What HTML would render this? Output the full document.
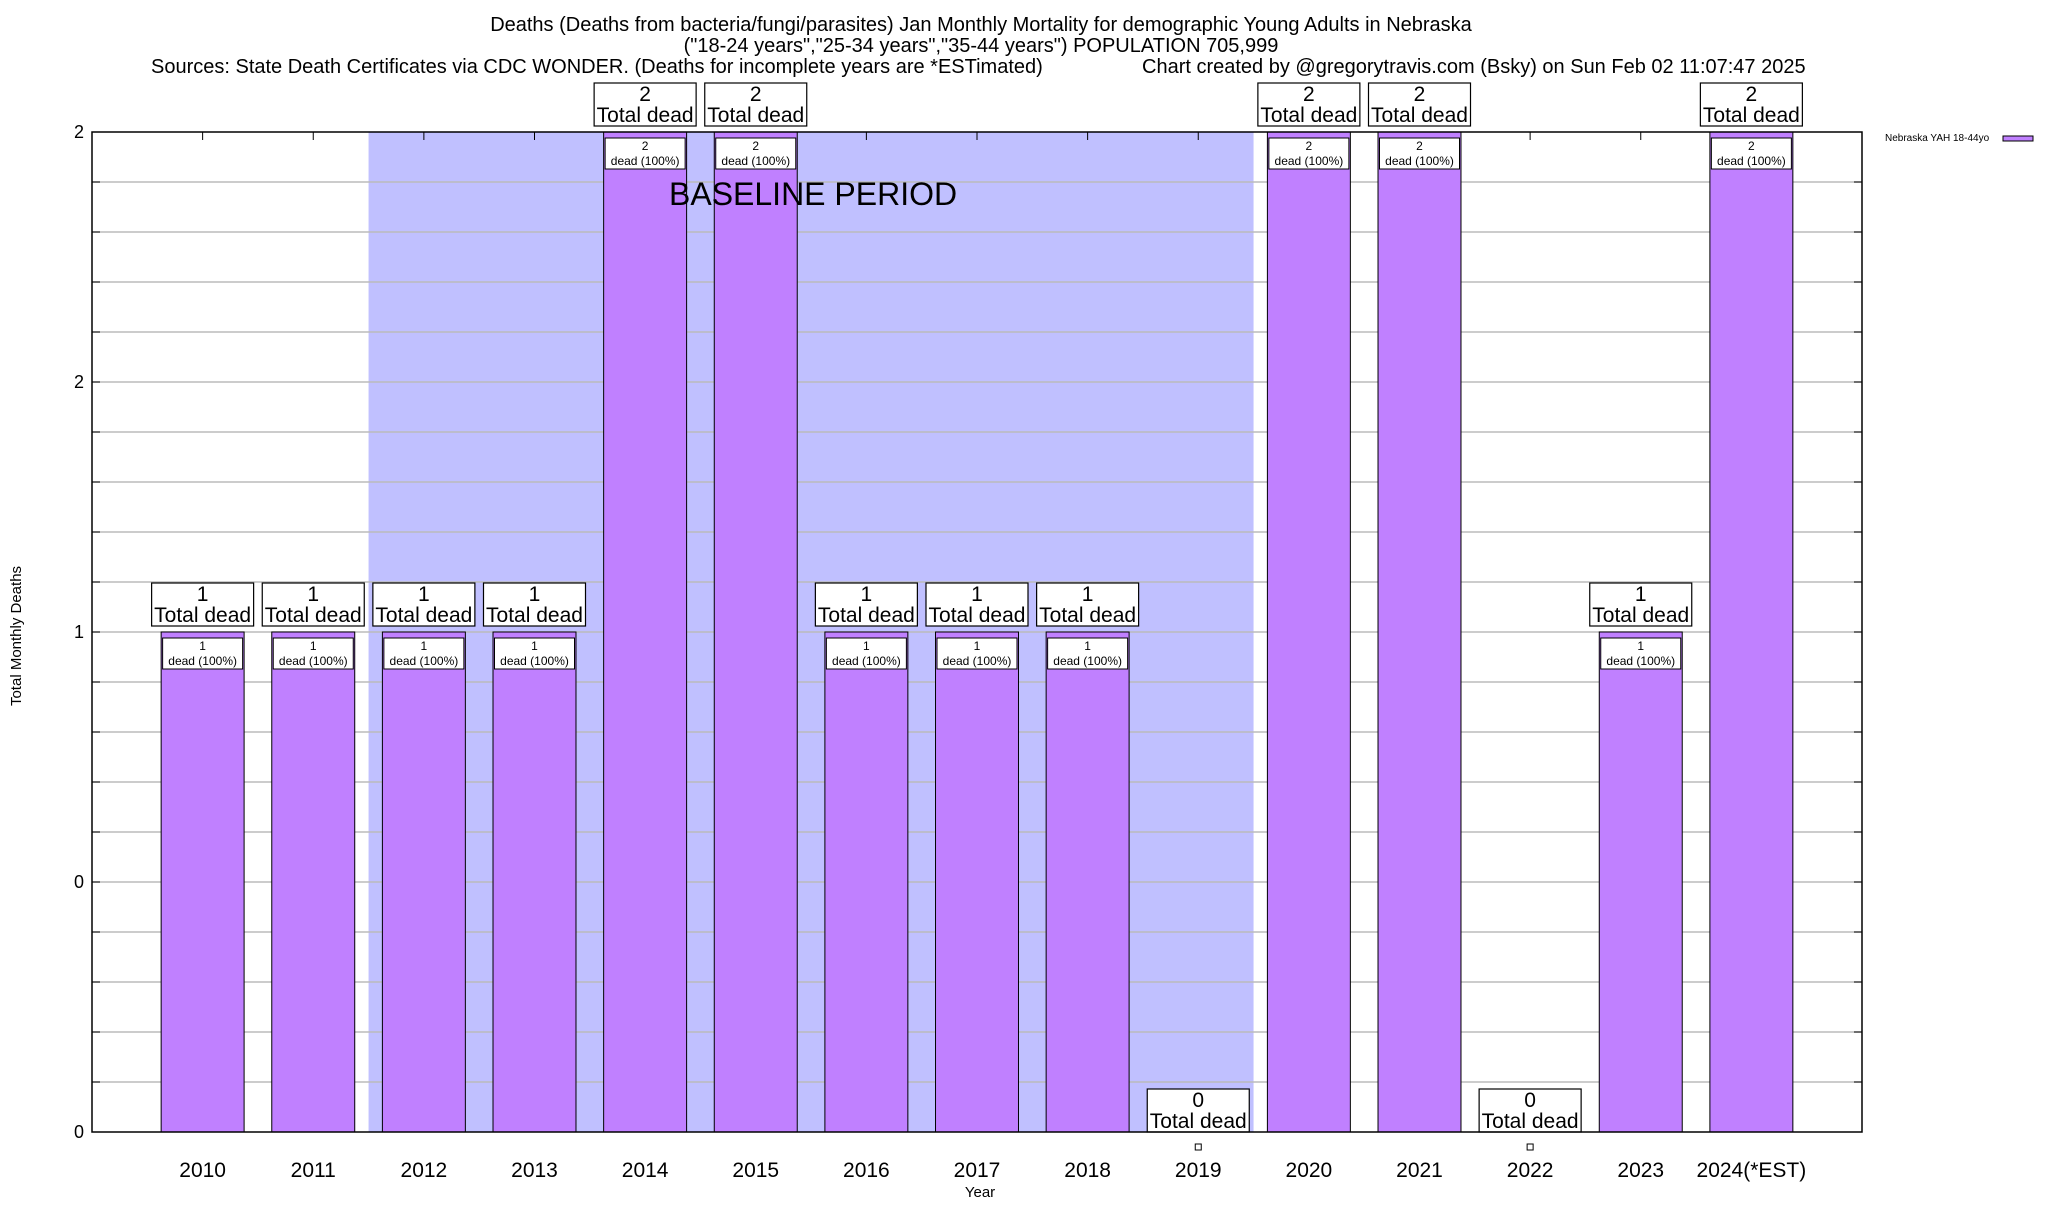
<!DOCTYPE html>
<html><head><meta charset="utf-8"><style>
body{margin:0;background:#fff;}
svg text{font-family:"Liberation Sans",sans-serif;fill:#000;}
</style></head><body>
<svg id="chart" width="2048" height="1200" viewBox="0 0 2048 1200" xmlns="http://www.w3.org/2000/svg">
<text x="981" y="31" font-size="20" text-anchor="middle">Deaths (Deaths from bacteria/fungi/parasites) Jan Monthly Mortality for demographic Young Adults in Nebraska</text>
<text x="981" y="52" font-size="20" text-anchor="middle">("18-24 years","25-34 years","35-44 years") POPULATION 705,999</text>
<text x="151" y="73" font-size="20">Sources: State Death Certificates via CDC WONDER. (Deaths for incomplete years are *ESTimated)</text>
<text x="1142" y="73" font-size="20">Chart created by @gregorytravis.com (Bsky) on Sun Feb 02 11:07:47 2025</text>
<text transform="translate(21,636) rotate(-90)" font-size="15" text-anchor="middle">Total Monthly Deaths</text>
<text x="980" y="1197" font-size="15" text-anchor="middle">Year</text>
<text x="1885" y="141" font-size="10">Nebraska YAH 18-44yo</text>
<rect x="2003" y="136" width="30" height="5" fill="#c080ff" stroke="#000" stroke-width="1"/>
<g id="plot"></g>
</svg>
<script>
const years=["2010","2011","2012","2013","2014","2015","2016","2017","2018","2019","2020","2021","2022","2023","2024(*EST)"];
const deaths=[1,1,1,1,2,2,1,1,1,0,2,2,0,1,2];
const yTickValues=[0,0.5,1,1.5,2];
const yTickLabels=["0","0","1","2","2"];
const baselineStart=2; const baselineEnd=9;
const L=92,R=1862,T=132,B=1132,yMax=2;
const slot=(R-L)/(years.length+1);
const xs=i=>L+slot*(i+1);
const ys=v=>B-(v/yMax)*(B-T);
const NS="http://www.w3.org/2000/svg";
const g=document.getElementById('plot');
function mk(tag,attrs,parent){const e=document.createElementNS(NS,tag);for(const k in attrs)e.setAttribute(k,attrs[k]);(parent||g).appendChild(e);return e;}
const sh=mk('rect',{x:xs(baselineStart)-slot/2,y:T,width:(baselineEnd-baselineStart+1)*slot,height:B-T,fill:'#c0c0ff'});


for(let k=1;k<20;k++){const v=k*yMax/20;const y=ys(v);
 const gl=mk('line',{x1:L,x2:R,y1:y,y2:y,stroke:'#bbb','stroke-width':1.5});
 
 
 mk('line',{x1:L,x2:L+8,y1:y,y2:y,stroke:'#000'});mk('line',{x1:R-8,x2:R,y1:y,y2:y,stroke:'#000'});}
yTickValues.forEach((v,i)=>{const t=mk('text',{x:84,y:ys(v)+6,'font-size':18,'text-anchor':'end'});t.textContent=yTickLabels[i];
 
 });
const bw=slot*0.75;
years.forEach((yr,i)=>{
 const cx=xs(i),v=deaths[i],top=ys(v);
 mk('line',{x1:cx,x2:cx,y1:T,y2:T+8,stroke:'#000'});
 if(v>0){
  const b=mk('rect',{x:cx-bw/2,y:top,width:bw,height:B-top,fill:'#c080ff',stroke:'#000','stroke-width':1});
  
  
  const ib=mk('rect',{x:cx-40,y:top+6,width:80,height:31,fill:'#fff',stroke:'#000','stroke-width':1});
  
  
  const t1=mk('text',{x:cx,y:top+18,'font-size':12,'text-anchor':'middle'});t1.textContent=v;
  
  
  const t2=mk('text',{x:cx,y:top+33,'font-size':12,'text-anchor':'middle'});t2.textContent='dead (100%)';
  
  
 } else {
  const m=mk('rect',{x:cx-3,y:B+12,width:6,height:6,fill:'#fff',stroke:'#000'});
  
  
 }
 const bb=top-(v>0?6:0);
 const ob=mk('rect',{x:cx-51,y:bb-43,width:102,height:43,fill:'#fff',stroke:'#000','stroke-width':1.2});
 
 
 const o1=mk('text',{x:cx,y:bb-25,'font-size':21,'text-anchor':'middle'});o1.textContent=v;
 
 
 const o2=mk('text',{x:cx,y:bb-4,'font-size':21,'text-anchor':'middle'});o2.textContent='Total dead';
 
 
 const xl=mk('text',{x:cx,y:1177,'font-size':21,'text-anchor':'middle'});xl.textContent=yr;
 
 
});
const bt=mk('text',{x:669,y:205,'font-size':32});bt.textContent='BASELINE PERIOD';


const fr=mk('rect',{x:L,y:T,width:R-L,height:B-T,fill:'none',stroke:'#000','stroke-width':1.5});


</script>
</body></html>
